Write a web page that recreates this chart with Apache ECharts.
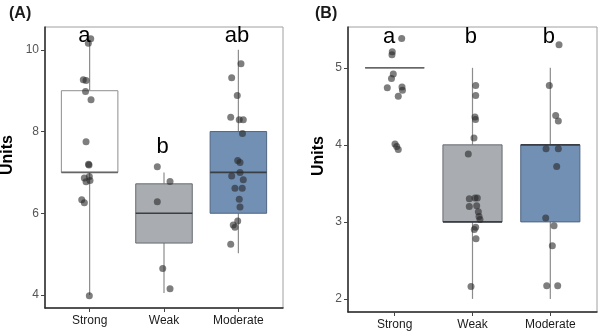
<!DOCTYPE html>
<html>
<head>
<meta charset="utf-8">
<script src="https://cdn.jsdelivr.net/npm/echarts@6/dist/echarts.min.js"></script>
<style>
  html, body { margin: 0; padding: 0; background: #fff; }
  #chart { width: 600px; height: 335px; }
</style>
</head>
<body>
<div id="chart"></div>
<script>
// ---- data ----
const categories = ['Strong', 'Weak', 'Moderate'];

// box summaries: [low whisker, Q1, median, Q3, high whisker]
const boxesA = [
  [4.0, 7.0, 7.0, 9.0, 10.2],
  [4.05, 5.27, 6.0, 6.72, 7.0],
  [5.02, 6.0, 7.0, 8.0, 10.0]
];
const boxesB = [
  [5, 5, 5, 5, 5],
  [2, 3, 3, 4, 5],
  [2, 3, 4, 4, 5]
];

// observations per group, with their horizontal jitter (category units)
const strongA = [10.27, 10.16, 9.27, 9.25, 8.98, 8.78, 7.75, 7.2, 7.18, 6.9, 6.86, 6.8, 6.77, 6.33, 6.26, 3.98];
const strongAJitter = [0.015, -0.017, -0.085, -0.048, -0.055, 0.019, -0.048, -0.015, -0.008, -0.004, -0.071, 0.005, -0.048, -0.106, -0.071, -0.004];
const weakA = [7.14, 6.78, 6.28, 4.65, 4.15];
const weakAJitter = [-0.09, 0.081, -0.09, -0.017, 0.081];
const moderateA = [9.66, 9.32, 8.88, 8.35, 8.29, 8.29, 7.95, 7.29, 7.24, 7.0, 6.91, 6.82, 6.61, 6.61, 6.34, 6.15, 5.81, 5.71, 5.66, 5.24];
const moderateAJitter = [0.035, -0.09, -0.015, -0.103, 0.012, 0.066, 0.055, -0.009, 0.022, 0.022, -0.09, 0.066, -0.046, 0.052, 0.012, 0.022, -0.009, -0.069, -0.046, -0.103];

const strongB = [5.38, 5.21, 5.17, 4.92, 4.86, 4.74, 4.75, 4.71, 4.63, 4.01, 3.98, 3.94];
const strongBJitter = [0.09, -0.031, -0.035, -0.018, -0.041, -0.095, 0.094, 0.1, 0.046, 0.004, 0.026, 0.046];
const weakB = [4.77, 4.64, 4.36, 4.33, 4.09, 3.88, 3.3, 3.31, 3.31, 3.2, 3.21, 3.13, 3.07, 3.03, 2.93, 2.9, 2.78, 2.16];
const weakBJitter = [0.041, 0.041, 0.032, 0.039, 0.019, -0.054, -0.041, 0.032, 0.062, -0.041, 0.054, 0.075, 0.084, 0.096, 0.041, 0.023, 0.045, -0.019];
const moderateB = [5.3, 4.77, 4.38, 4.31, 3.95, 3.95, 3.72, 3.05, 2.95, 2.69, 2.17, 2.17];
const moderateBJitter = [0.112, -0.013, 0.069, 0.103, -0.055, 0.103, 0.082, -0.059, 0.048, 0.026, -0.046, 0.095];

const lettersA = ['a', 'b', 'ab'];
const lettersB = ['a', 'b', 'b'];

const ticksA = [4, 6, 8, 10];
const ticksB = [2, 3, 4, 5];

// ---- styling ----
const fills = ['#ffffff', '#a9adb2', '#7190b4'];
const borders = ['#8e8e8e', '#656a70', '#4f6580'];
const medianColor = '#3a3f45';
const whiskerColor = '#8c8c8c';
const pointColor = 'rgba(40,40,40,0.75)';
const FONT = 'Liberation Sans, Arial, sans-serif';
const BOX_W = 0.76;

function pointsData(groups) {
  const out = [];
  groups.forEach(([vals, jit], g) => {
    vals.forEach((v, i) => out.push([g + 1 + jit[i], v]));
  });
  return out;
}

function boxRender(params, api) {
  const x = api.value(0);
  const lo = api.value(1), q1 = api.value(2), med = api.value(3), q3 = api.value(4), hi = api.value(5);
  const i = params.dataIndex;
  const h = BOX_W / 2;
  const tl = api.coord([x - h, q3]);
  const br = api.coord([x + h, q1]);
  const wTop = api.coord([x, hi]), wQ3 = api.coord([x, q3]);
  const wQ1 = api.coord([x, q1]), wBot = api.coord([x, lo]);
  const mL = api.coord([x - h, med]), mR = api.coord([x + h, med]);
  return {
    type: 'group',
    children: [
      { type: 'line', shape: { x1: wTop[0], y1: wTop[1], x2: wQ3[0], y2: wQ3[1] }, style: { stroke: whiskerColor, lineWidth: 1.2 } },
      { type: 'line', shape: { x1: wQ1[0], y1: wQ1[1], x2: wBot[0], y2: wBot[1] }, style: { stroke: whiskerColor, lineWidth: 1.2 } },
      { type: 'rect', shape: { x: tl[0], y: tl[1], width: br[0] - tl[0], height: br[1] - tl[1] },
        style: { fill: fills[i], stroke: borders[i], lineWidth: 1 } },
      { type: 'line', shape: { x1: mL[0], y1: mL[1], x2: mR[0], y2: mR[1] }, style: { stroke: i === 0 ? '#666' : medianColor, lineWidth: 1.6 } }
    ]
  };
}

function makeLetterRender(letters) {
  return function (params, api) {
    const p = api.coord([api.value(0), api.value(1)]);
    return {
      type: 'text',
      x: p[0], y: p[1],
      style: { text: letters[params.dataIndex], font: '22px ' + FONT, fill: '#000', align: 'center', verticalAlign: 'bottom' }
    };
  };
}

function xAxis(gridIndex) {
  return {
    type: 'value', gridIndex, min: 0.4, max: 3.6,
    splitLine: { show: false },
    axisLine: { show: true, lineStyle: { color: '#2a2a2a', width: 1.5 } },
    axisTick: { show: true, length: 4, customValues: [1, 2, 3], lineStyle: { color: '#444' } },
    axisLabel: { customValues: [1, 2, 3], formatter: v => categories[Math.round(v) - 1],
                 fontFamily: FONT, fontSize: 12, color: '#1a1a1a', margin: 7 }
  };
}
function yAxis(gridIndex, min, max, ticks) {
  return {
    type: 'value', gridIndex, min, max,
    splitLine: { show: false },
    axisLine: { show: true, onZero: false, lineStyle: { color: '#2a2a2a', width: 1.5 } },
    axisTick: { show: true, length: 4, customValues: ticks, lineStyle: { color: '#444' } },
    axisLabel: { customValues: ticks, fontFamily: FONT, fontSize: 12, color: '#555', margin: 6 }
  };
}

const boxSeries = (boxes, k) => ({
  type: 'custom', xAxisIndex: k, yAxisIndex: k, z: 1,
  renderItem: boxRender,
  data: boxes.map((b, g) => [g + 1].concat(b))
});
const pointSeries = (data, k) => ({
  type: 'scatter', xAxisIndex: k, yAxisIndex: k, z: 5,
  symbolSize: 7, itemStyle: { color: pointColor },
  data
});
const letterSeries = (letters, ys, k) => ({
  type: 'custom', xAxisIndex: k, yAxisIndex: k, z: 6,
  renderItem: makeLetterRender(letters),
  data: letters.map((t, g) => [g + 1 + (g === 0 ? -0.07 : -0.02), ys[g]])
});

const chart = echarts.init(document.getElementById('chart'), null, { renderer: 'canvas' });
chart.setOption({
  animation: false,
  backgroundColor: '#fff',
  grid: [
    { left: 45, right: 317, top: 27, bottom: 27, show: true, borderColor: '#a0a0a0', borderWidth: 1 },
    { left: 348, right: 3, top: 27, bottom: 23, show: true, borderColor: '#a0a0a0', borderWidth: 1 }
  ],
  xAxis: [xAxis(0), xAxis(1)],
  yAxis: [yAxis(0, 3.68, 10.56, ticksA), yAxis(1, 1.83, 5.53, ticksB)],
  graphic: [
    { type: 'text', left: 9, top: 6, style: { text: '(A)', font: 'bold 16px ' + FONT, fill: '#1a1a1a' } },
    { type: 'text', left: 315, top: 6, style: { text: '(B)', font: 'bold 16px ' + FONT, fill: '#1a1a1a' } },
    { type: 'text', x: 8, y: 155, rotation: Math.PI / 2,
      style: { text: 'Units', font: 'bold 16px ' + FONT, fill: '#000', align: 'center', verticalAlign: 'middle' } },
    { type: 'text', x: 319, y: 156, rotation: Math.PI / 2,
      style: { text: 'Units', font: 'bold 16px ' + FONT, fill: '#000', align: 'center', verticalAlign: 'middle' } }
  ],
  series: [
    boxSeries(boxesA, 0),
    pointSeries(pointsData([[strongA, strongAJitter], [weakA, weakAJitter], [moderateA, moderateAJitter]]), 0),
    letterSeries(lettersA, [10.07, 7.35, 10.07], 0),
    boxSeries(boxesB, 1),
    pointSeries(pointsData([[strongB, strongBJitter], [weakB, weakBJitter], [moderateB, moderateBJitter]]), 1),
    letterSeries(lettersB, [5.26, 5.26, 5.26], 1)
  ]
});
</script>
</body>
</html>
